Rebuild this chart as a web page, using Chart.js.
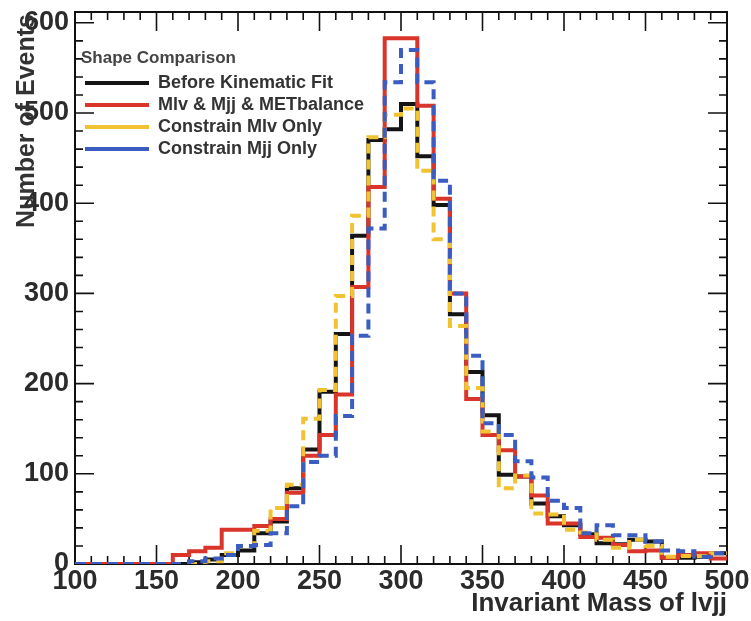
<!DOCTYPE html>
<html>
<head>
<meta charset="utf-8">
<script src="https://cdn.jsdelivr.net/npm/chart.js@4.4.1/dist/chart.umd.min.js"></script>
<style>
  html, body { margin: 0; padding: 0; background: #fff; }
  #wrap { width: 751px; height: 621px; }
</style>
</head>
<body>
<div id="wrap"><canvas id="mass-chart"></canvas></div>
<script>
// left bin edges (GeV), 10 GeV bins
var binEdges = [100, 110, 120, 130, 140, 150, 160, 170, 180, 190,
                200, 210, 220, 230, 240, 250, 260, 270, 280, 290,
                300, 310, 320, 330, 340, 350, 360, 370, 380, 390,
                400, 410, 420, 430, 440, 450, 460, 470, 480, 490];
var xTicks = [100, 150, 200, 250, 300, 350, 400, 450, 500];
var yTicks = [0, 100, 200, 300, 400, 500, 600];

var beforeFit = [0, 0, 0, 0, 0, 0, 0, 2, 5, 10,
                 15, 34, 47, 84, 127, 191, 255, 364, 470, 482,
                 510, 452, 398, 277, 213, 165, 99, 97, 67, 53,
                 43, 33, 23, 22, 27, 25, 7, 7, 8, 12];
var fullFit = [0, 0, 0, 0, 0, 0, 10, 14, 18, 38,
               38, 42, 50, 79, 120, 143, 188, 307, 418, 583,
               583, 508, 405, 300, 183, 143, 126, 97, 76, 45,
               45, 30, 29, 21, 14, 15, 7, 10, 12, 6];
var mlvOnly = [0, 0, 0, 0, 0, 0, 0, 0, 3, 12,
               20, 37, 62, 88, 161, 193, 297, 386, 473, 498,
               505, 436, 360, 264, 195, 147, 84, 98, 56, 55,
               38, 35, 27, 18, 27, 20, 8, 9, 9, 12];
var mjjOnly = [0, 0, 0, 0, 0, 0, 0, 3, 6, 10,
               20, 21, 34, 64, 113, 120, 164, 253, 372, 534,
               570, 534, 425, 300, 231, 156, 143, 114, 96, 70,
               62, 34, 43, 32, 32, 25, 15, 14, 8, 12];

// histogram points: one per left edge, plus the upper edge closing the last bin
function histPoints(vals) {
  var pts = binEdges.map(function (x, i) { return {x: x, y: vals[i]}; });
  pts.push({x: xTicks[xTicks.length - 1], y: vals[vals.length - 1]});
  return pts;
}

var FONT = '"Liberation Sans", Arial, Helvetica, sans-serif';

// ROOT style frame with inward ticks on all four sides
var rootFrame = {
  id: 'rootFrame',
  afterLayout: function (chart) {
    // nudge the in-frame legend a little off the left axis
    var lg = chart.legend;
    if (lg) {
      var wdt = lg.right - lg.left;
      lg.left = chart.chartArea.left + 6;
      lg.right = lg.left + wdt;
    }
  },
  beforeDatasetsDraw: function (chart) {
    var ctx = chart.ctx, a = chart.chartArea, x = chart.scales.x, y = chart.scales.y;
    ctx.save();
    ctx.strokeStyle = '#111';
    ctx.lineWidth = 1.6;
    ctx.beginPath();
    for (var v = x.min; v <= x.max; v += 10) {
      var px = x.getPixelForValue(v);
      var len = v % 50 === 0 ? 19 : 8;
      ctx.moveTo(px, a.bottom); ctx.lineTo(px, a.bottom - len);
      ctx.moveTo(px, a.top); ctx.lineTo(px, a.top + len);
    }
    for (var w = 0; w <= y.max; w += 20) {
      var py = y.getPixelForValue(w);
      var l2 = w % 100 === 0 ? 19 : 8;
      ctx.moveTo(a.left, py); ctx.lineTo(a.left + l2, py);
      ctx.moveTo(a.right, py); ctx.lineTo(a.right - l2, py);
    }
    ctx.stroke();
    ctx.lineWidth = 2;
    ctx.strokeRect(a.left, a.top, a.right - a.left, a.bottom - a.top);
    ctx.restore();
  },
  afterDraw: function (chart) {
    var ctx = chart.ctx, a = chart.chartArea;
    ctx.save();
    ctx.translate(27, a.top + 2);
    ctx.rotate(-Math.PI / 2);
    ctx.font = 'bold 25px ' + FONT;
    ctx.fillStyle = '#333';
    ctx.textAlign = 'right';
    ctx.textBaseline = 'middle';
    ctx.fillText('Number of Events', 0, 0);
    ctx.restore();
  }
};

function ds(label, vals, color, dash, order) {
  return {
    label: label,
    data: histPoints(vals),
    borderColor: color,
    backgroundColor: color,
    borderWidth: 4,
    borderDash: dash,
    stepped: true,
    pointRadius: 0,
    fill: false,
    order: order
  };
}

var config = {
  type: 'line',
  data: {
    datasets: [
      ds('Before Kinematic Fit', beforeFit, '#141414', [], 4),
      ds('Mlv & Mjj & METbalance', fullFit, '#d9352b', [], 3),
      ds('Constrain Mlv Only', mlvOnly, '#f1c232', [10, 6], 2),
      ds('Constrain Mjj Only', mjjOnly, '#3b5cc0', [10, 6], 1)
    ]
  },
  options: {
    responsive: true,
    maintainAspectRatio: false,
    animation: false,
    layout: { padding: { top: 12, right: 24, left: 0, bottom: 0 } },
    scales: {
      x: {
        type: 'linear',
        min: 100,
        max: 500,
        afterBuildTicks: function (s) { s.ticks = xTicks.map(function (v) { return {value: v}; }); },
        afterFit: function (s) { s.height = 57; s.paddingLeft = 0; s.paddingRight = 0; },
        grid: { display: false, drawTicks: false },
        border: { display: false },
        ticks: { font: { size: 27, family: FONT, weight: 'bold' }, color: '#2b2b2b', padding: 1, maxRotation: 0, autoSkip: false },
        title: { display: true, text: 'Invariant Mass of lvjj', align: 'end', color: '#2b2b2b',
                 font: { size: 26, family: FONT, weight: 'bold' }, padding: { top: 0, bottom: 2 } }
      },
      y: {
        min: 0,
        max: 612,
        afterBuildTicks: function (s) { s.ticks = yTicks.map(function (v) { return {value: v}; }); },
        afterFit: function (s) { s.width = 75; s.paddingTop = 0; s.paddingBottom = 0; },
        grid: { display: false, drawTicks: false },
        border: { display: false },
        ticks: { font: { size: 27, family: FONT, weight: 'bold' }, color: '#2b2b2b', padding: 6, autoSkip: false }
      }
    },
    plugins: {
      tooltip: { enabled: false },
      legend: {
        position: 'chartArea',
        align: 'start',
        reverse: true,
        title: { display: true, position: 'start', text: 'Shape Comparison', color: '#444',
                 font: { size: 17, family: FONT, weight: 'bold' }, padding: { top: 49.5, bottom: 0 } },
        labels: {
          usePointStyle: true,
          pointStyle: 'line',
          pointStyleWidth: 64,
          boxWidth: 64,
          padding: 4,
          color: '#333',
          font: { size: 18, family: FONT, weight: 'bold' }
        }
      }
    }
  },
  plugins: [rootFrame]
};

var ctx = document.getElementById('mass-chart').getContext('2d');
new Chart(ctx, config);
</script>
</body>
</html>
